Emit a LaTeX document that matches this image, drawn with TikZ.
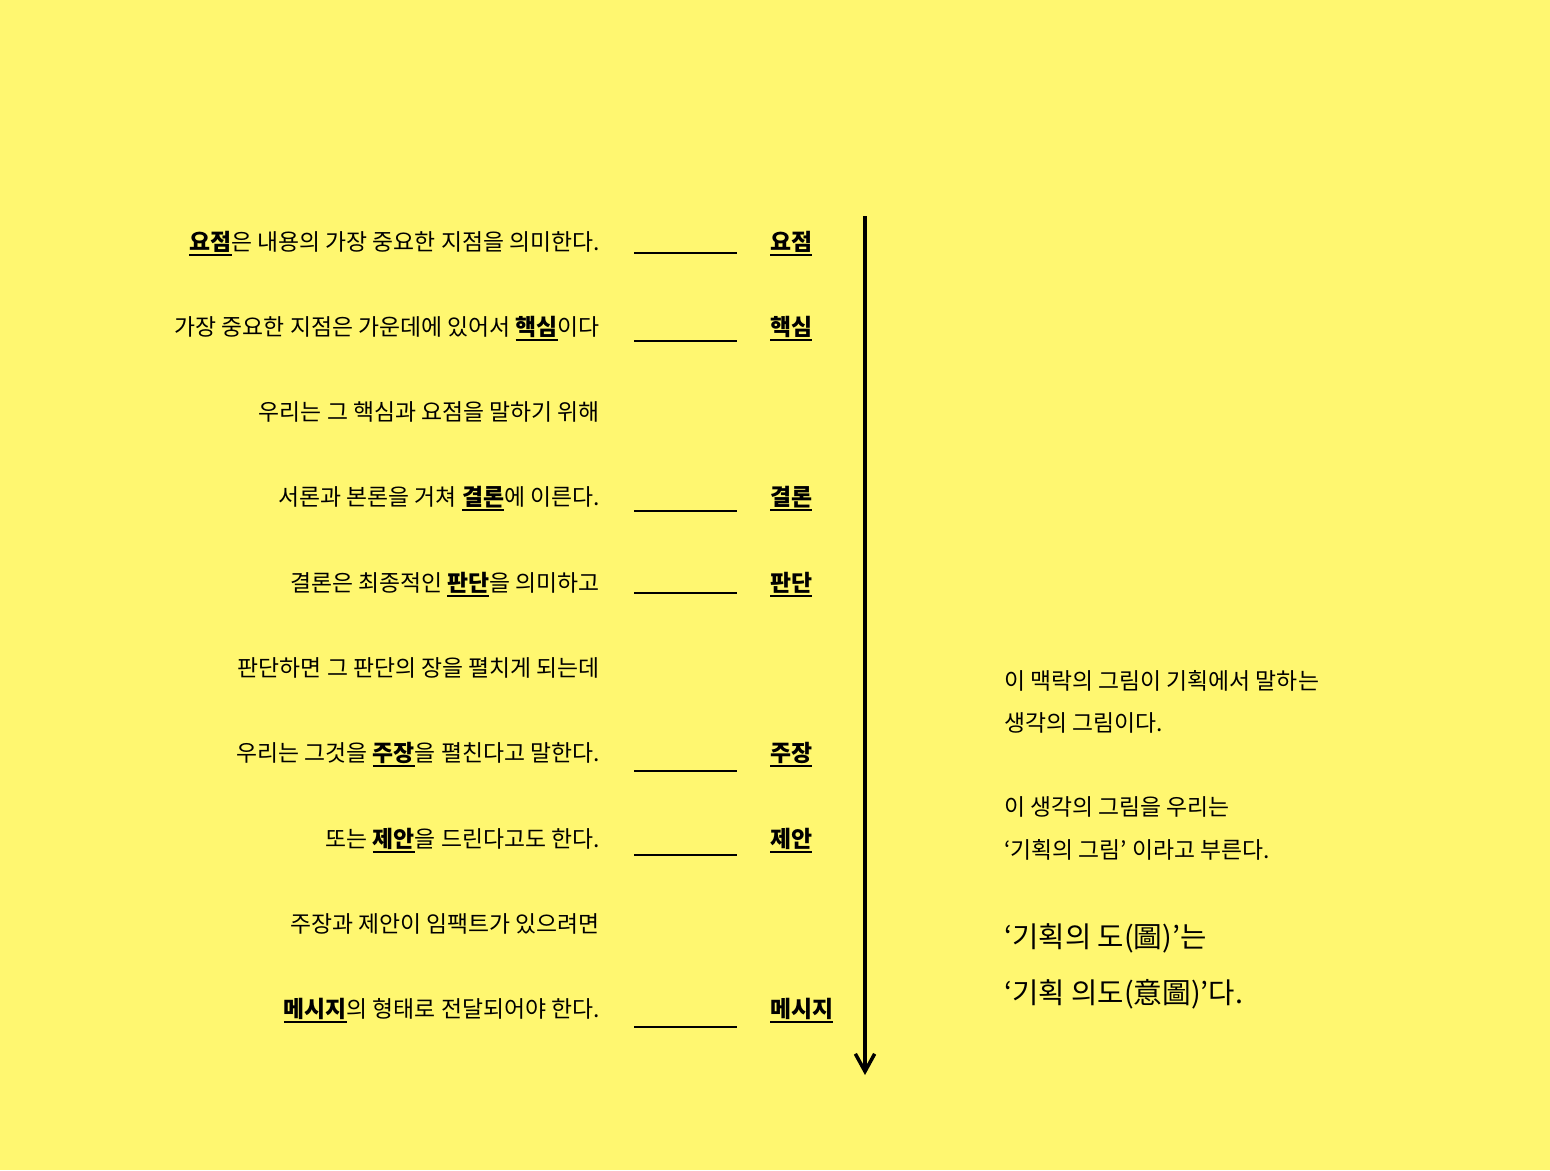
\documentclass[tikz,border=0pt]{standalone}
\usepackage{fontspec}
\setmainfont{Noto Sans CJK KR}
\usetikzlibrary{arrows, arrows.meta, positioning}
\definecolor{memo}{RGB}{255,247,112}
\newsavebox{\kwbox}
\newcommand{\kw}[1]{\sbox{\kwbox}{\textbf{#1}}\rlap{\rule[-3.4pt]{\wd\kwbox}{0.9pt}}\usebox{\kwbox}}

\begin{document}
\begin{tikzpicture}[x=0.02cm, y=-0.02cm]
    \tikzstyle{line} = [anchor=base east, inner sep=0pt, font=\fontsize{13pt}{15pt}\selectfont]
    \tikzstyle{word} = [anchor=base west, inner sep=0pt, font=\fontsize{13pt}{15pt}\selectfont]
    \tikzstyle{note} = [anchor=base west, inner sep=0pt, font=\fontsize{13pt}{15pt}\selectfont]
    \tikzstyle{big} = [anchor=base west, inner sep=0pt, font=\fontsize{16.3pt}{19pt}\selectfont]

    \fill[memo] (0,0) rectangle (1550,1170);
    \useasboundingbox (0,0) rectangle (1550,1170);

    % left column
    \node[line] (s1) at (600,250) {\kw{요점}은 내용의 가장 중요한 지점을 의미한다.};
    \node[line] (s2) at (600,335) {가장 중요한 지점은 가운데에 있어서 \kw{핵심}이다};
    \node[line] (s3) at (600,420) {우리는 그 핵심과 요점을 말하기 위해};
    \node[line] (s4) at (600,505) {서론과 본론을 거쳐 \kw{결론}에 이른다.};
    \node[line] (s5) at (600,591) {결론은 최종적인 \kw{판단}을 의미하고};
    \node[line] (s6) at (600,676) {판단하면 그 판단의 장을 펼치게 되는데};
    \node[line] (s7) at (600,761) {우리는 그것을 \kw{주장}을 펼친다고 말한다.};
    \node[line] (s8) at (600,847) {또는 \kw{제안}을 드린다고도 한다.};
    \node[line] (s9) at (600,932) {주장과 제안이 임팩트가 있으려면};
    \node[line] (s10) at (600,1017) {\kw{메시지}의 형태로 전달되어야 한다.};

    % keywords
    \node[word] (w1) at (770,250) {\kw{요점}};
    \node[word] (w2) at (770,335) {\kw{핵심}};
    \node[word] (w4) at (770,505) {\kw{결론}};
    \node[word] (w5) at (770,591) {\kw{판단}};
    \node[word] (w7) at (770,761) {\kw{주장}};
    \node[word] (w8) at (770,847) {\kw{제안}};
    \node[word] (w10) at (770,1017) {\kw{메시지}};

    % blanks
    \foreach \i/\y in {1/253, 2/341, 4/511, 5/593, 7/771, 8/855, 10/1027} {
        \coordinate (b\i) at (634,\y);
        \coordinate (e\i) at (737,\y);
        \draw[line width=1.1pt] (b\i) -- (e\i);
    }

    % flow
    \coordinate (top) at (865,216);
    \coordinate (bottom) at (865,1075);
    \draw[-{Straight Barb[length=10pt, width=11pt]}, line width=2pt] (top) -- (bottom);

    % right column
    \node[note] (n1) at (1004,689) {이 맥락의 그림이 기획에서 말하는};
    \node[note] (n2) at (1004,731) {생각의 그림이다.};
    \node[note] (n3) at (1004,815) {이 생각의 그림을 우리는};
    \node[note] (n4) at (1004,858) {‘기획의 그림’ 이라고 부른다.};
    \node[big] (n5) at (1004,947) {‘기획의 도(圖)’는};
    \node[big] (n6) at (1004,1003) {‘기획 의도(意圖)’다.};
\end{tikzpicture}
\end{document}
